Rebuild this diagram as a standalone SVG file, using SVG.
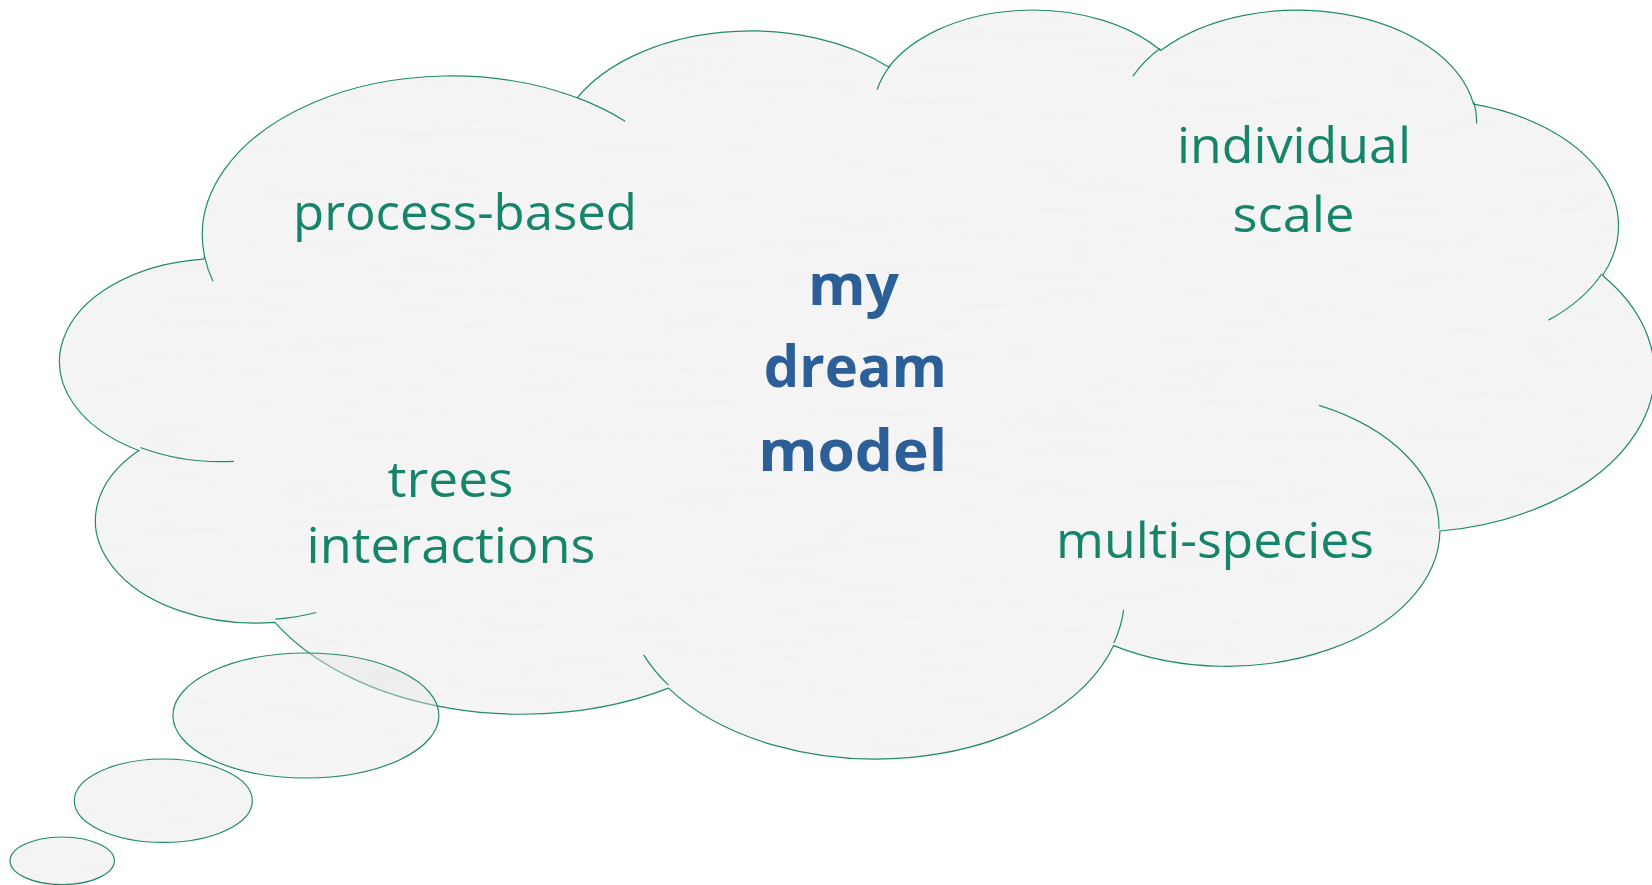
<svg xmlns="http://www.w3.org/2000/svg" xmlns:xlink="http://www.w3.org/1999/xlink" width="1652" height="885" viewBox="0 0 1652 885">
  <style>
    .shape { fill: #e6e6e6; fill-opacity: 0.42; stroke: none; }
    .line { fill: none; stroke: #1f8a6b; stroke-width: 1.2; }
    .bubble { fill: #e6e6e6; fill-opacity: 0.42; stroke: #1f8a6b; stroke-width: 1.2; }
    .label { font-family: "Open Sans", "Noto Sans", "Liberation Sans", sans-serif; font-size: 50px; fill: #15846a; text-anchor: middle; }
    .title { font-family: "Open Sans", "Noto Sans", "Liberation Sans", sans-serif; font-size: 58px; font-weight: 700; fill: #2c5f98; text-anchor: middle; }
  </style>
  <defs>
    <!-- cloud outline in a 43200 x 43200 unit box, scaled onto the page -->
    <path id="cloudPath" vector-effect="non-scaling-stroke" transform="matrix(0.03687 0 0 0.017331 60.8 7.63)"
      d="M3900,14370 A6753,9190 0 0 1 14005,5202 A5333,7267 0 0 1 22456,3429 A4365,5945 0 0 1 29832,2476 A4857,6595 0 0 1 38317,5571 A5333,7273 0 0 1 41818,15455 A6775,9220 0 0 1 37405,30200 A5785,7867 0 0 1 28556,36810 A6752,9215 0 0 1 16481,39263 A7720,10543 0 0 1 5806,35471 A4360,5918 0 0 1 2114,25551 A4345,5945 0 0 1 3864,14507 Z"/>
    <clipPath id="paperClip">
      <use xlink:href="#cloudPath"/>
      <ellipse cx="305.9" cy="715.5" rx="133" ry="62.5"/>
      <ellipse cx="163.3" cy="800.7" rx="89" ry="41.7"/>
      <ellipse cx="62.2" cy="860.8" rx="52.2" ry="23.8"/>
    </clipPath>
    <!-- faint horizontal paper grain -->
    <filter id="paper" filterUnits="userSpaceOnUse" x="0" y="0" width="1652" height="885">
      <feTurbulence type="fractalNoise" baseFrequency="0.008 0.1" numOctaves="3" seed="7"/>
      <feColorMatrix type="matrix" values="0 0 0 0 0.6  0 0 0 0 0.6  0 0 0 0 0.6  0.12 0 0 0 -0.04"/>
    </filter>
  </defs>

  <rect width="1652" height="885" fill="#ffffff"/>

  <g id="cloud">
    <use xlink:href="#cloudPath" class="shape"/>
    <use xlink:href="#cloudPath" class="line"/>
    <!-- short arcs where the lobes overlap -->
    <path class="line" vector-effect="non-scaling-stroke" transform="matrix(0.03687 0 0 0.017331 60.8 7.63)"
      d="M4127,15789 A6753,9190 0 0 1 3900,14370
         M14000,5192 A6753,9190 0 0 1 15305,6550
         M22141,4720 A4365,5945 0 0 1 22500,3331
         M29078,3952 A4857,6595 0 0 1 29820,2339
         M38324,5426 A4857,6595 0 0 1 38401,6690
         M41798,15354 A5333,7273 0 0 1 40350,18030
         M34129,22954 A5785,7867 0 0 1 37380,30090
         M28827,34751 A6752,9215 0 0 1 28560,36660
         M16478,39090 A6752,9215 0 0 1 15810,37348
         M4693,26177 A4345,5945 0 0 1 2160,25380
         M6928,34899 A4360,5918 0 0 1 5820,35281"/>
  </g>

  <g id="thought-bubbles">
    <ellipse id="bubble-large" class="bubble" cx="305.9" cy="715.5" rx="133" ry="62.5"/>
    <ellipse id="bubble-medium" class="bubble" cx="163.3" cy="800.7" rx="89" ry="41.7"/>
    <ellipse id="bubble-small" class="bubble" cx="62.2" cy="860.8" rx="52.2" ry="23.8"/>
  </g>

  <rect width="1652" height="885" filter="url(#paper)" clip-path="url(#paperClip)"/>

  <g id="connectors"></g>

  <g id="label-process-based">
    <text class="label" x="465" y="230" textLength="344" lengthAdjust="spacingAndGlyphs">process-based</text>
  </g>
  <g id="label-individual-scale">
    <text class="label" x="1294" y="163" textLength="234" lengthAdjust="spacingAndGlyphs">individual</text>
    <text class="label" x="1293.5" y="231.5" textLength="122" lengthAdjust="spacingAndGlyphs">scale</text>
  </g>
  <g id="label-dream-model">
    <text class="title" x="853.5" y="305" textLength="91" lengthAdjust="spacingAndGlyphs">my</text>
    <text class="title" x="855.3" y="387.3" textLength="183" lengthAdjust="spacingAndGlyphs">dream</text>
    <text class="title" x="852.7" y="470.7" textLength="189" lengthAdjust="spacingAndGlyphs">model</text>
  </g>
  <g id="label-trees-interactions">
    <text class="label" x="450.5" y="496.5" textLength="126" lengthAdjust="spacingAndGlyphs">trees</text>
    <text class="label" x="451" y="563" textLength="289" lengthAdjust="spacingAndGlyphs">interactions</text>
  </g>
  <g id="label-multi-species">
    <text class="label" x="1215" y="558" textLength="318" lengthAdjust="spacingAndGlyphs">multi-species</text>
  </g>
</svg>
